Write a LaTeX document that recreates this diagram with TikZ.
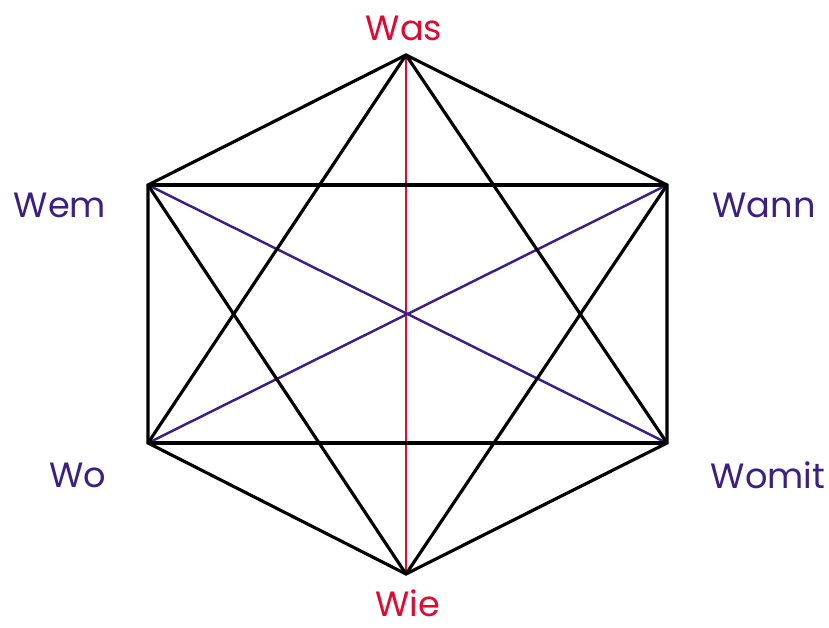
\documentclass[tikz,border=0pt]{standalone}
\usepackage{fontspec}
\setmainfont{Poppins}
\usepackage{tikz}
\usetikzlibrary{calc}

\definecolor{wred}{RGB}{222,10,52}
\definecolor{wblue}{RGB}{58,32,132}

\tikzset{
  edge/.style={draw=black, line width=2.7pt, line join=miter},
  redge/.style={draw=wred, line width=2.1pt},
  bedge/.style={draw=wblue, line width=2.1pt},
  wlabel/.style={font=\fontsize{30}{36}\selectfont, inner sep=0pt},
}

\begin{document}
\begin{tikzpicture}[x=0.03cm, y=-0.03cm]
  \useasboundingbox (0,0) rectangle (829,628);
  % corners of the hexagon
  \coordinate (was)   at (406,55);
  \coordinate (wem)   at (148,185);
  \coordinate (wann)  at (667,185);
  \coordinate (wo)    at (148,443);
  \coordinate (womit) at (667,443);
  \coordinate (wie)   at (406,574);
  % labels
  \node[wlabel, text=wred]  (lwas)   at (404,28)  {Was};
  \node[wlabel, text=wblue] (lwem)   at (60,205)  {Wem};
  \node[wlabel, text=wblue] (lwann)  at (764,205) {Wann};
  \node[wlabel, text=wblue] (lwo)    at (78,475)  {Wo};
  \node[wlabel, text=wblue] (lwomit) at (768,475) {Womit};
  \node[wlabel, text=wred]  (lwie)   at (408,603) {Wie};
  % colored diagonals
  \draw[redge] (was) -- (wie);
  \draw[bedge] (wem) -- (womit);
  \draw[bedge] (wo) -- (wann);
  % hexagon, rectangle and star
  \draw[edge] (was) -- (wann) -- (womit) -- (wie) -- (wo) -- (wem) -- cycle;
  \draw[edge] (wem) -- (wann);
  \draw[edge] (wo) -- (womit);
  \draw[edge] (was) -- (wo);
  \draw[edge] (was) -- (womit);
  \draw[edge] (wie) -- (wem);
  \draw[edge] (wie) -- (wann);
\end{tikzpicture}
\end{document}
